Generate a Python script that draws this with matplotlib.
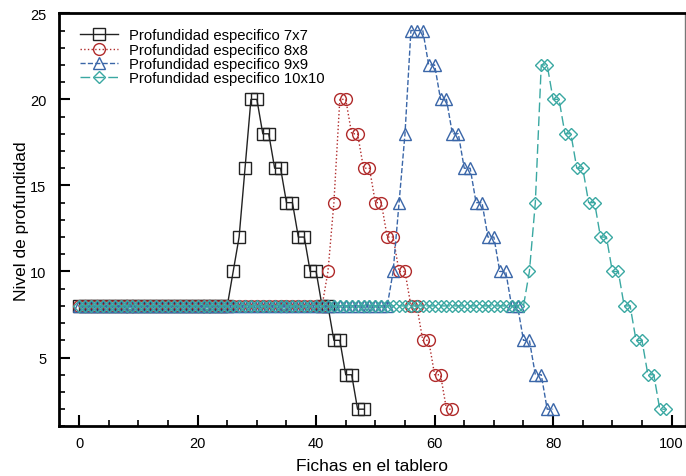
import matplotlib
matplotlib.use("Agg")
import matplotlib.pyplot as plt
from matplotlib.ticker import MultipleLocator

plt.rcParams['font.family'] = ['Liberation Sans', 'DejaVu Sans']

# Depth level per number of pieces on the board (x = 0, 1, 2, ...)
labels = ['Profundidad especifico 7x7', 'Profundidad especifico 8x8',
          'Profundidad especifico 9x9', 'Profundidad especifico 10x10']

depth_7x7 = [8] * 26 + [10, 12, 16, 20, 20, 18, 18, 16, 16, 14, 14, 12, 12,
                        10, 10, 8, 8, 6, 6, 4, 4, 2, 2]
depth_8x8 = [8] * 42 + [10, 14, 20, 20, 18, 18, 16, 16, 14, 14, 12, 12,
                        10, 10, 8, 8, 6, 6, 4, 4, 2, 2]
depth_9x9 = [8] * 53 + [10, 14, 18, 24, 24, 24, 22, 22, 20, 20, 18, 18, 16, 16,
                        14, 14, 12, 12, 10, 10, 8, 8, 6, 6, 4, 4, 2, 2]
depth_10x10 = [8] * 76 + [10, 14, 22, 22, 20, 20, 18, 18, 16, 16, 14, 14,
                          12, 12, 10, 10, 8, 8, 6, 6, 4, 4, 2, 2]

series = [depth_7x7, depth_8x8, depth_9x9, depth_10x10]
colors = ['#222222', '#b02a2a', '#3a66a8', '#3aa8a2']
styles = ['-', ':', '--', (0, (7, 3))]
markers = ['s', 'o', '^', 'D']
msizes = [8, 8.5, 8.5, 6.5]

fig = plt.figure(figsize=(6.86, 4.77), dpi=100)
ax = fig.add_axes([0.086, 0.104, 0.912, 0.866])

for y, lab, c, ls, m, ms in zip(series, labels, colors, styles, markers, msizes):
    x = range(len(y))
    ax.plot(x, y, linestyle=ls, color=c, lw=1.0, marker=m, markersize=ms,
            mfc='none', mec=c, mew=1.0, label=lab)

ax.set_xlim(-3.4, 102.2)
ax.set_ylim(1, 25)
ax.xaxis.set_major_locator(MultipleLocator(20))
ax.xaxis.set_minor_locator(MultipleLocator(5))
ax.yaxis.set_major_locator(MultipleLocator(5))
ax.yaxis.set_minor_locator(MultipleLocator(1))

ax.tick_params(which='major', direction='in', length=8, width=1.5,
               labelsize=10.5, top=False, right=False)
ax.tick_params(which='minor', direction='in', length=4, width=1.2,
               top=False, right=False)
ax.tick_params(axis='y', which='major', pad=9)
ax.tick_params(axis='x', which='major', pad=7)

for side in ['left', 'bottom', 'top']:
    ax.spines[side].set_linewidth(2)
ax.spines['right'].set_linewidth(1)
ax.spines['right'].set_color('#777777')

ax.set_xlabel('Fichas en el tablero', fontsize=12.5, labelpad=6)
ax.set_ylabel('Nivel de profundidad', fontsize=12.5, labelpad=1)

ax.legend(loc='upper left', bbox_to_anchor=(0.02, 0.985), frameon=False,
          fontsize=10.7, numpoints=1, handlelength=2.5, handletextpad=0.75,
          labelspacing=0.02, borderaxespad=0.2)

fig.savefig('out.png', dpi=100)
